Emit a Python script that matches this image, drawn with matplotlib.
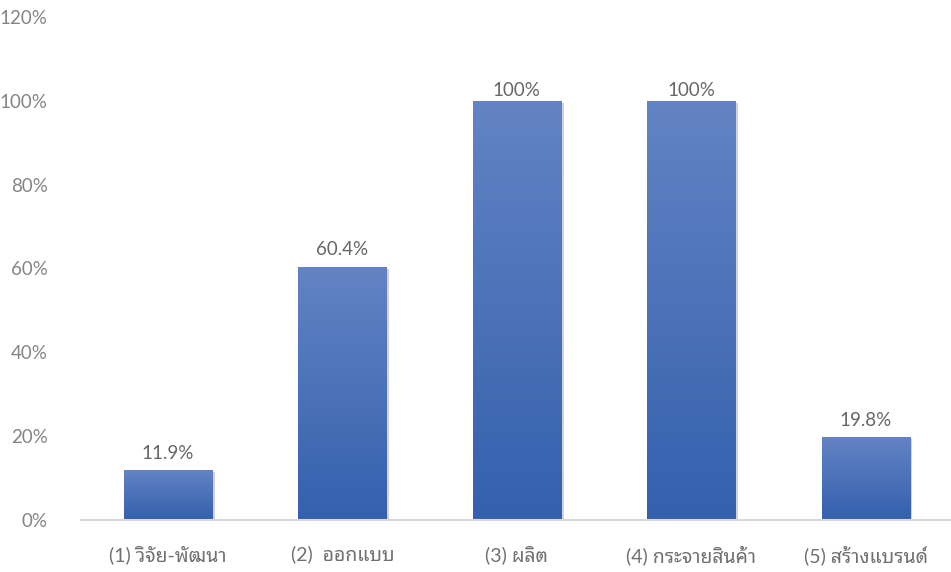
import matplotlib
matplotlib.use("Agg")
import matplotlib.pyplot as plt
import matplotlib.patheffects as pe
import numpy as np
from matplotlib.colors import LinearSegmentedColormap

categories = ["(1) วิจัย-พัฒนา", "(2)  ออกแบบ", "(3) ผลิต", "(4) กระจายสินค้า", "(5) สร้างแบรนด์"]
values = [11.9, 60.4, 100.0, 100.0, 19.8]
value_labels = ["11.9%", "60.4%", "100%", "100%", "19.8%"]
y_ticks = [0, 20, 40, 60, 80, 100, 120]
y_tick_labels = ["0%", "20%", "40%", "60%", "80%", "100%", "120%"]

FONT = ["Lato", "Noto Sans Thai Looped", "DejaVu Sans"]
plt.rcParams["font.family"] = FONT

fig = plt.figure(figsize=(9.51, 5.72), dpi=100)
ax = fig.add_axes([0.085, 0.0909, 0.915, 0.8794])

x = np.arange(len(categories))
bars = ax.bar(x, values, width=0.505, color="#4a70b8", zorder=2,
              path_effects=[pe.SimplePatchShadow(offset=(2, -1.5), shadow_rgbFace="#7f7f7f", alpha=0.35),
                            pe.Normal()])

# vertical gradient fill, lighter at the top of each bar
grad_cmap = LinearSegmentedColormap.from_list("bar_grad", ["#3460ad", "#6383c4"])
grad = np.linspace(0, 1, 256).reshape(-1, 1)
for b in bars:
    x0, y0 = b.get_x(), b.get_y()
    w, h = b.get_width(), b.get_height()
    im = ax.imshow(grad, cmap=grad_cmap, origin="lower", aspect="auto",
                   extent=(x0, x0 + w, y0, y0 + h), zorder=3, interpolation="bilinear")
    im.set_clip_path(b)

for b, lab in zip(bars, value_labels):
    top = b.get_height()
    off = 1.5 if top >= 100 else 6
    ax.annotate(lab, (b.get_x() + b.get_width() / 2, top),
                xytext=(0, off), textcoords="offset points", ha="center", va="bottom",
                fontsize=13.5, color="#666666", zorder=4)

ax.set_xlim(-0.5, 4.49)
ax.set_ylim(0, 120)
ax.set_yticks(y_ticks)
ax.set_yticklabels(y_tick_labels)
ax.set_xticks(x)
ax.set_xticklabels(categories)
ax.tick_params(axis="both", length=0, labelsize=13.5, colors="#858585")
ax.tick_params(axis="x", pad=18, colors="#707070", labelsize=14)
ax.tick_params(axis="y", pad=24)
for s in ["top", "right", "left"]:
    ax.spines[s].set_visible(False)
ax.spines["bottom"].set_color("#d9d9d9")
ax.spines["bottom"].set_linewidth(1.5)
ax.spines["bottom"].set_zorder(5)

fig.savefig("out.png", dpi=100)
